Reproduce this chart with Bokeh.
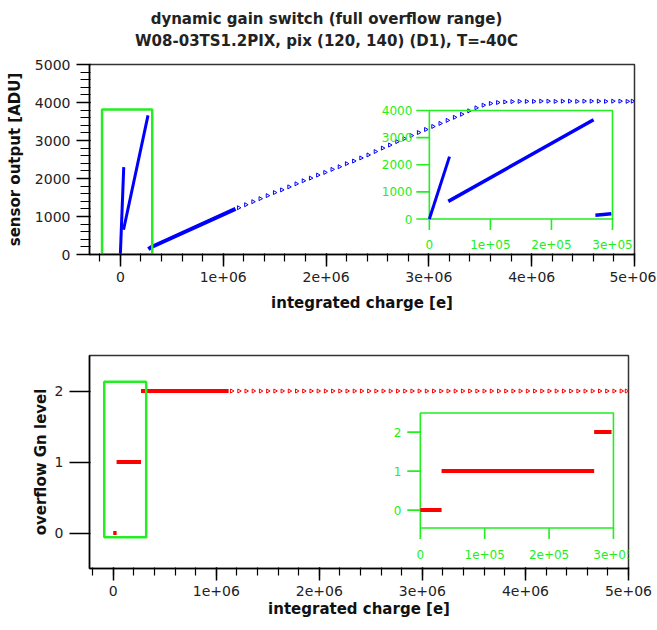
import math
from bokeh.plotting import figure
from bokeh.models import Range1d, SingleIntervalTicker
from bokeh.layouts import column
from bokeh.core.properties import value
from bokeh.embed import file_html
from bokeh.resources import INLINE

# ---------------- data ----------------
title_lines = ["dynamic gain switch (full overflow range)",
               "W08-03TS1.2PIX, pix (120, 140) (D1), T=-40C"]
x_label = "integrated charge [e]"
adu_label = "sensor output [ADU]"
gn_label = "overflow Gn level"

x_tick_values = [0, 1000000, 2000000, 3000000, 4000000, 5000000]
x_tick_labels = ["0", "1e+06", "2e+06", "3e+06", "4e+06", "5e+06"]

# sensor output, dense segments (charge [e], ADU)
gain0_q = [0, 33000]
gain0_adu = [0, 2300]
gain1_q = [31000, 269000]
gain1_adu = [650, 3660]
gain2_q = [272000, 298000, 1120000]
gain2_adu = [140, 190, 1200]

# sparse high-charge points
sparse_q = [1150000, 1220000, 1290000, 1360000, 1430000, 1500000, 1570000, 1640000,
            1710000, 1780000, 1850000, 1920000, 1990000, 2060000, 2130000, 2200000,
            2270000, 2340000, 2410000, 2480000, 2550000, 2620000, 2690000, 2760000,
            2830000, 2900000, 2970000, 3040000, 3110000, 3180000, 3250000, 3320000,
            3390000, 3460000, 3530000, 3600000, 3670000, 3740000, 3810000, 3880000,
            3950000, 4020000, 4090000, 4160000, 4230000, 4300000, 4370000, 4440000,
            4510000, 4580000, 4650000, 4720000, 4790000, 4860000, 4930000, 4980000]
sparse_adu = [1230, 1310, 1390, 1470, 1550, 1630, 1700, 1780,
              1860, 1940, 2010, 2090, 2160, 2240, 2310, 2390,
              2460, 2540, 2620, 2710, 2800, 2880, 2970, 3050,
              3130, 3210, 3290, 3370, 3450, 3530, 3610, 3690,
              3780, 3860, 3930, 3975, 4000, 4015, 4025, 4030,
              4030, 4030, 4035, 4035, 4030, 4035, 4035, 4030,
              4035, 4035, 4035, 4030, 4035, 4035, 4030, 4035]

# overflow gain level
gn0_q = [0, 33000]
gn0_level = [0, 0]
gn1_q = [33000, 270000]
gn1_level = [1, 1]
gn2_q = [270000, 297000, 1120000]
gn2_level = [2, 2, 2]
sparse_level = 2

# insets
inset_x_ticks = [0, 100000, 200000, 300000]
inset_x_labels = ["0", "1e+05", "2e+05", "3e+05"]
inset_adu_ticks = [0, 1000, 2000, 3000, 4000]
inset_adu_labels = ["0", "1000", "2000", "3000", "4000"]
inset_gn_ticks = [0, 1, 2]
inset_gn_labels = ["0", "1", "2"]

# zoom-region boxes and inset placement (layout)
zoom_box1_q = [-178000, 310000]
zoom_box1_adu = [0, 3815]
zoom_box2_q = [-87000, 320000]
zoom_box2_level = [-0.06, 2.13]
inset1_target_q = [3005000, 4786000]
inset1_target_adu = [934, 3789]
inset2_level_span = [-0.46, 2.49]
inset2_target_q = [2980000, 4854000]
inset2_target_level = [0.07, 1.69]
title_x = 326
title_y = [38, 15.5]

# ---------------- style ----------------
FONT = "DejaVu Sans"
AXC = "#000000"
TXT = "#222222"
GREEN = "#22ee22"
BLUE = "#0000ff"
RED = "#ff0000"


def style_axes(p, xstand, ystand, yminor_out, ytick_out):
    p.xaxis.ticker = SingleIntervalTicker(interval=1000000, num_minor_ticks=5)
    p.xaxis.major_label_overrides = dict(zip(x_tick_values, x_tick_labels))
    p.xaxis.axis_label = x_label
    for axl in (p.xaxis, p.yaxis):
        axl.axis_line_color = AXC
        axl.axis_line_width = 1.5
        axl.major_tick_line_color = AXC
        axl.major_tick_line_alpha = 1.0
        axl.major_tick_line_width = 1.5
        axl.minor_tick_line_color = AXC
        axl.minor_tick_line_alpha = 1.0
        axl.minor_tick_line_width = 1.2
        axl.major_label_text_font = FONT
        axl.major_label_text_font_size = "14px"
        axl.major_label_text_color = TXT
        axl.axis_label_text_font = FONT
        axl.axis_label_text_font_size = "15px"
        axl.axis_label_text_font_style = "bold"
        axl.axis_label_text_color = "#111111"
        axl.major_tick_in = 1
        axl.minor_tick_in = 1
    p.xaxis.major_tick_out = 12
    p.xaxis.minor_tick_out = 7
    p.xaxis.major_label_standoff = 5
    p.xaxis.axis_label_standoff = xstand
    p.yaxis.major_tick_out = ytick_out
    p.yaxis.minor_tick_out = yminor_out
    p.yaxis.major_label_standoff = 6
    p.yaxis.axis_label_standoff = ystand
    p.xgrid.visible = False
    p.ygrid.visible = False
    p.outline_line_color = "#333333"
    p.outline_line_width = 1.5
    p.background_fill_color = "white"
    p.border_fill_color = "white"


def inset_axes(sub, xticks, xlabels, yticks, ylabels, ybottom, ytop, yoff_x, xoff_y):
    sub.quad(left=xticks[0], right=xticks[-1], bottom=ybottom, top=ytop,
             fill_color=None, line_color=GREEN, line_width=1.6)
    sub.ray(x=xticks, y=ybottom, length=11, length_units="screen", angle=-math.pi / 2,
            line_color=GREEN, line_width=1.6)
    sub.ray(x=xticks[0], y=yticks, length=13, length_units="screen", angle=math.pi,
            line_color=GREEN, line_width=1.6)
    sub.text(x=xticks, y=ybottom, text=xlabels, y_offset=xoff_y, text_align="center",
             text_baseline="middle", text_font=value(FONT), text_font_size="12px",
             text_color=GREEN)
    sub.text(x=xticks[0], y=yticks, text=ylabels, x_offset=yoff_x, text_align="right",
             text_baseline="middle", text_font=value(FONT), text_font_size="12px",
             text_color=GREEN)


# ---------------- title strip ----------------
p0 = figure(frame_width=545, frame_height=56, x_range=Range1d(89, 634),
            y_range=Range1d(0, 56), output_backend="svg", toolbar_location=None,
            x_axis_location=None, y_axis_location=None, min_border_left=89,
            min_border_right=22, min_border_top=0, min_border_bottom=0, title=None)
p0.xgrid.visible = False
p0.ygrid.visible = False
p0.outline_line_color = None
p0.text(x=[title_x, title_x], y=title_y, text=title_lines, text_align="center",
        text_baseline="middle", text_font=value(FONT), text_font_size="15px",
        text_font_style="bold", text_color=TXT)

# ---------------- top figure ----------------
p1 = figure(frame_width=545, frame_height=190, x_range=Range1d(-300000, 5000000),
            y_range=Range1d(0, 5000), output_backend="svg", toolbar_location=None,
            min_border_left=89, min_border_right=22, min_border_top=8,
            min_border_bottom=66, title=None)
p1.yaxis.ticker = SingleIntervalTicker(interval=1000, num_minor_ticks=5)
p1.yaxis.axis_label = adu_label
style_axes(p1, 9, 8, 9, 13)

p1.line(gain0_q, gain0_adu, line_color=BLUE, line_width=3)
p1.line(gain1_q, gain1_adu, line_color=BLUE, line_width=3)
p1.line(gain2_q, gain2_adu, line_color=BLUE, line_width=4)
p1.scatter(sparse_q, sparse_adu, marker="triangle", angle=-math.pi / 2, size=4,
           fill_color=None, line_color=BLUE, line_width=1)
p1.quad(left=zoom_box1_q[0], right=zoom_box1_q[1], bottom=zoom_box1_adu[0],
        top=zoom_box1_adu[1], fill_color=None, line_color=GREEN, line_width=2.5)

ins1 = p1.subplot(x_source=Range1d(inset_x_ticks[0], inset_x_ticks[-1]),
                  y_source=Range1d(inset_adu_ticks[0], inset_adu_ticks[-1]),
                  x_target=Range1d(*inset1_target_q), y_target=Range1d(*inset1_target_adu))
inset_axes(ins1, inset_x_ticks, inset_x_labels, inset_adu_ticks, inset_adu_labels,
           inset_adu_ticks[0], inset_adu_ticks[-1], -17, 25)
ins1.line(gain0_q, gain0_adu, line_color=BLUE, line_width=3)
ins1.line(gain1_q, gain1_adu, line_color=BLUE, line_width=3.5)
ins1.line(gain2_q[:2], gain2_adu[:2], line_color=BLUE, line_width=3.5)

# ---------------- bottom figure ----------------
p2 = figure(frame_width=539, frame_height=213, x_range=Range1d(-230000, 5000000),
            y_range=Range1d(-0.5, 2.5), output_backend="svg", toolbar_location=None,
            min_border_left=89, min_border_right=28, min_border_top=35,
            min_border_bottom=61, title=None)
p2.yaxis.ticker = SingleIntervalTicker(interval=1, num_minor_ticks=0)
p2.yaxis.axis_label = gn_label
style_axes(p2, 1, 2, 0, 20)

p2.line(gn0_q, gn0_level, line_color=RED, line_width=4)
p2.line(gn1_q, gn1_level, line_color=RED, line_width=4)
p2.line(gn2_q, gn2_level, line_color=RED, line_width=4)
p2.scatter(sparse_q, sparse_level, marker="triangle", angle=-math.pi / 2, size=4,
           fill_color=None, line_color=RED, line_width=1)
p2.quad(left=zoom_box2_q[0], right=zoom_box2_q[1], bottom=zoom_box2_level[0],
        top=zoom_box2_level[1], fill_color=None, line_color=GREEN, line_width=2.5)

ins2 = p2.subplot(x_source=Range1d(inset_x_ticks[0], inset_x_ticks[-1]),
                  y_source=Range1d(*inset2_level_span),
                  x_target=Range1d(*inset2_target_q), y_target=Range1d(*inset2_target_level))
inset_axes(ins2, inset_x_ticks, inset_x_labels, inset_gn_ticks, inset_gn_labels,
           inset2_level_span[0], inset2_level_span[1], -19, 26)
ins2.line(gn0_q, gn0_level, line_color=RED, line_width=4)
ins2.line(gn1_q, gn1_level, line_color=RED, line_width=4)
ins2.line(gn2_q[:2], gn2_level[:2], line_color=RED, line_width=4)

layout = column(p0, p1, p2)
open("out.html", "w").write(file_html(layout, INLINE))
